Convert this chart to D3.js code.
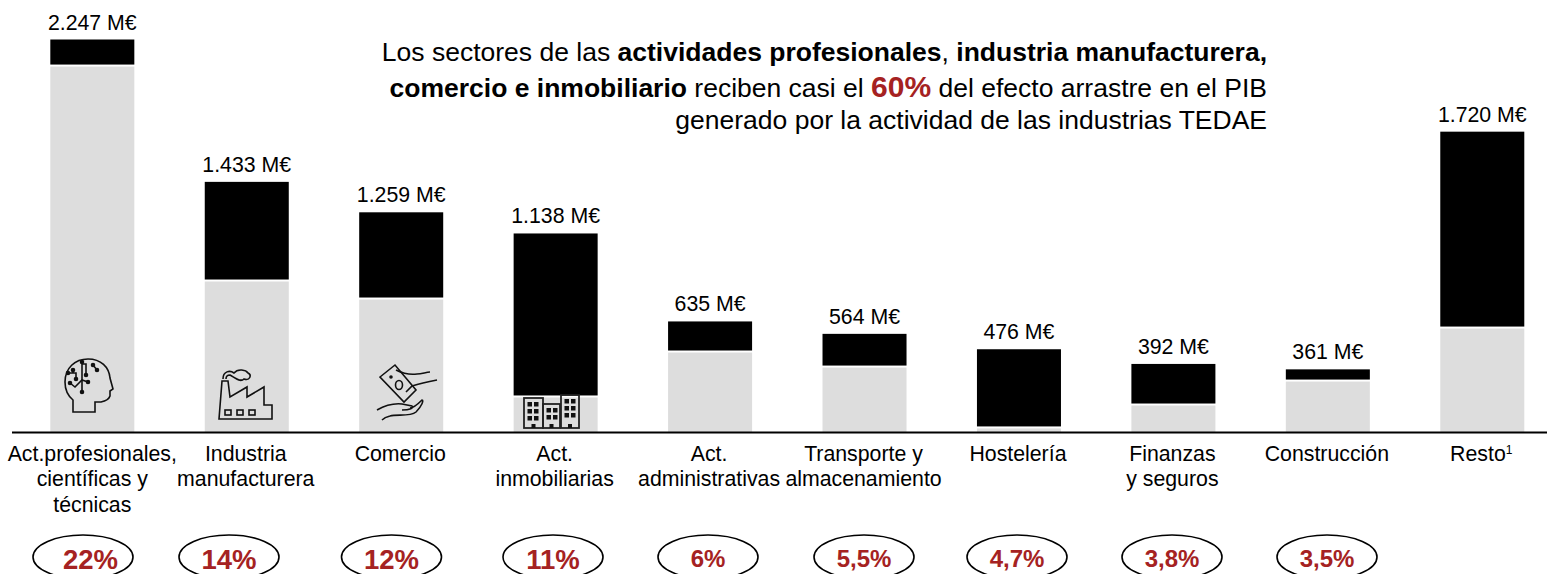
<!DOCTYPE html>
<html><head><meta charset="utf-8"><style>
html,body{margin:0;padding:0;background:#fff;overflow:hidden}
svg{display:block}
text{font-family:"Liberation Sans",Arial,sans-serif;fill:#000}
</style></head><body>
<svg id="c" width="1547" height="574"></svg>
<script src="https://cdn.jsdelivr.net/npm/d3@7/dist/d3.min.js"></script>
<script>
const categories=[["Act.profesionales,","científicas y","técnicas"],["Industria","manufacturera"],["Comercio"],["Act.","inmobiliarias"],["Act.","administrativas"],["Transporte y","almacenamiento"],["Hostelería"],["Finanzas","y seguros"],["Construcción"],["Resto"]];
const greyValues=[2098,869,766,206,463,377,29,160,297,600];
const blackValues=[149,564,493,932,172,187,447,232,64,1120];
const totalLabels=["2.247 M€","1.433 M€","1.259 M€","1.138 M€","635 M€","564 M€","476 M€","392 M€","361 M€","1.720 M€"];
const shareLabels=["22%","14%","12%","11%","6%","5,5%","4,7%","3,8%","3,5%"];
const shareCx=[83,229,391.5,553,708,864,1017,1172,1327];
const svg=d3.select("#c");
const idx=d3.range(categories.length);
const x=d3.scaleBand().domain(idx).range([15.1,1559.5]).paddingInner(.456).paddingOuter(.228);
const y=d3.scaleLinear().domain([0,2247]).range([432.5,39.5]);
const bars=svg.append("g");
bars.selectAll(".g").data(idx).join("rect").attr("x",i=>x(i)).attr("width",x.bandwidth())
 .attr("y",i=>y(greyValues[i])+1).attr("height",i=>432.5-y(greyValues[i])-1).attr("fill","#dddddd");
bars.selectAll(".b").data(idx).join("rect").attr("x",i=>x(i)).attr("width",x.bandwidth())
 .attr("y",i=>y(greyValues[i]+blackValues[i])).attr("height",i=>y(greyValues[i])-y(greyValues[i]+blackValues[i])-1).attr("fill","#000");
svg.append("line").attr("x1",12).attr("x2",1547).attr("y1",432.5).attr("y2",432.5).attr("stroke","#000").attr("stroke-width",2);
const cx=i=>x(i)+x.bandwidth()/2;
svg.selectAll(".t").data(idx).join("text").attr("x",cx).attr("y",i=>y(greyValues[i]+blackValues[i])-10)
 .attr("text-anchor","middle").attr("font-size",21.3).text(i=>totalLabels[i]);
const lab=svg.selectAll(".l").data(idx).join("text").attr("text-anchor","middle").attr("font-size",21.3);
lab.each(function(i){const t=d3.select(this);categories[i].forEach((s,k)=>{t.append("tspan").attr("x",cx(i)-(i===0?0:1)).attr("y",460.5+k*25.7).text(s);});
 if(i===9){t.append("tspan").attr("font-size",12).attr("dy",-7).text("1");}});
const sh=svg.selectAll(".s").data(shareLabels).join("g");
sh.append("ellipse").attr("cx",(d,i)=>shareCx[i]).attr("cy",557).attr("rx",50).attr("ry",22).attr("fill","none").attr("stroke","#000").attr("stroke-width",1.6);
sh.append("text").attr("x",(d,i)=>shareCx[i]+(i===0?7.5:0)).attr("y",(d,i)=>i<4?569:566.5).attr("text-anchor","middle")
 .attr("font-weight","bold").attr("font-size",(d,i)=>i<4?27.5:24).style("fill","#a52222").text(d=>d);
const lines=[[["Los sectores de las ",0],["actividades profesionales",1],[", ",0],["industria manufacturera,",1]],
 [["comercio e inmobiliario",1],[" reciben casi el ",0],["60%",2],[" del efecto arrastre en el PIB",0]],
 [["generado por la actividad de las industrias TEDAE",0]]];
lines.forEach((ln,k)=>{const tt=svg.append("text").attr("x",1267).attr("y",[61,97,129][k]).attr("text-anchor","end").attr("font-size",26.5);
 ln.forEach(([s,m])=>{const p=tt.append("tspan").text(s);if(m)p.attr("font-weight","bold");if(m===2)p.attr("font-size",30).style("fill","#a52222");});});
// icons
const ic=svg.append("g").attr("fill","none").attr("stroke","#111").attr("stroke-width",1.6);
const head=ic.append("g").attr("transform","translate(64,358)");
head.append("path").attr("d","M9 54V42C3 37 1 31 1 24C1 10 11 1 24 1C37 1 45 9 46 20L49 31L46 33V38C45 41 42 43 37 44H31V54Z");
head.selectAll("path.c").data(["M18 4V34","M4 15H12V21M9 12V15","M6 25L11 29L18 22L24 24","M18 6H22V17","M29 7L33 12"]).join("path").attr("class","c").attr("d",d=>d);
head.selectAll("circle").data([[18,4],[18,34],[4,15],[12,21],[9,12],[6,25],[24,24],[22,17],[29,7],[33,12]]).join("circle").attr("cx",d=>d[0]).attr("cy",d=>d[1]).attr("r",1.5).attr("fill","#111");
const fac=ic.append("g").attr("transform","translate(218,367)");
fac.append("path").attr("d","M1 52L4 14H10L12 30L29 20V30L46 20V38H54V52Z");
fac.append("path").attr("d","M5 12C5 4 12 3 16 6C20 1 28 3 30 6C34 8 32 14 26 12C22 16 16 10 12 8C9 8 8 10 8 12");
[6,18,30].forEach(d=>fac.append("rect").attr("x",d+1).attr("y",43).attr("width",6).attr("height",5));
const hand=ic.append("g").attr("transform","translate(372,362)");
hand.append("path").attr("d","M8 15L23 3L44 28L32 40Z");
hand.append("ellipse").attr("cx",27).attr("cy",23).attr("rx",3.5).attr("ry",4.5);
hand.append("circle").attr("cx",19).attr("cy",15).attr("r",1).attr("fill","#111");
hand.append("path").attr("d","M24 8C30 11 38 13 45 12C50 12 54 10 58 10M34 30L40 24C46 22 54 20 65 18");
hand.append("path").attr("d","M5 48C12 44 20 41 30 42L40 44C42 46 38 48 30 48M38 46C42 46 46 42 50 38C52 38 50 44 44 50C38 55 25 52 18 54C14 55 12 56 10 58");
const bld=ic.append("g").attr("transform","translate(524,395)").attr("stroke-width",1.8).attr("stroke","#222");
[[0,3,19,30],[19,9,17,24],[37,0,18,33]].forEach(([a,b,w,h])=>{bld.append("rect").attr("x",a).attr("y",b).attr("width",w).attr("height",h);
 d3.range(3).forEach(r=>[0,1].forEach(c=>{ if(b===9&&r===2)return; bld.append("rect").attr("x",a+3.5+c*6.5).attr("y",b+4+r*7).attr("width",4.5).attr("height",4.5).attr("fill","#111").attr("stroke","none");}));
 bld.append("rect").attr("x",a+w/2-2).attr("y",b+h-4).attr("width",4).attr("height",4).attr("fill","#111").attr("stroke","none");});
</script></body></html>
